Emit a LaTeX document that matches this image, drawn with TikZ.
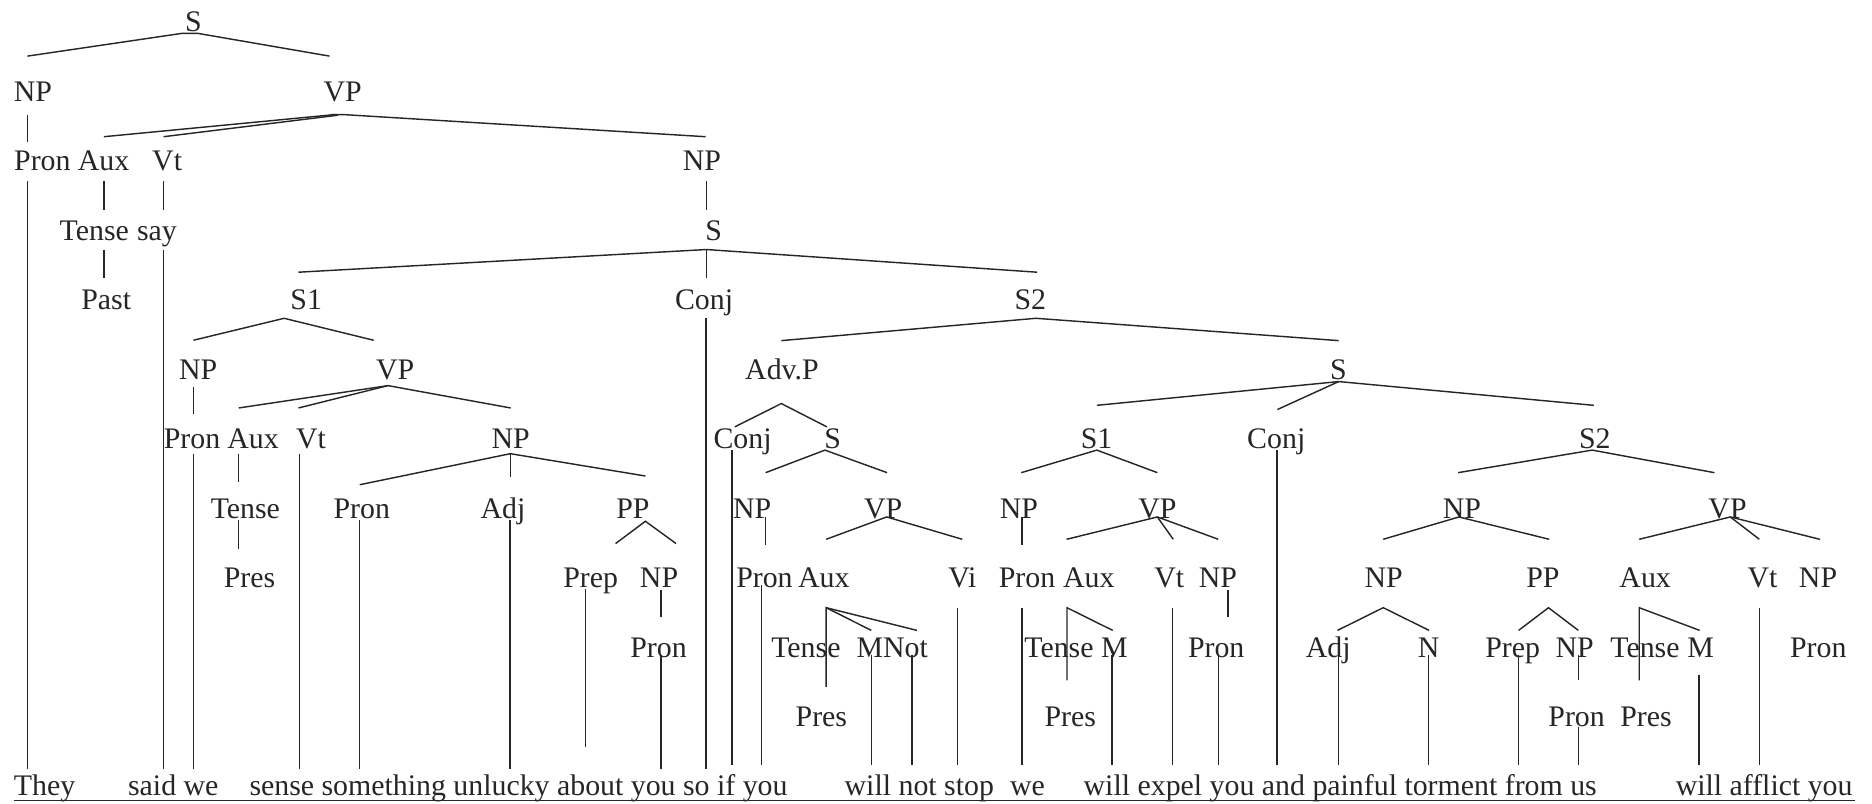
\documentclass[tikz,border=0pt]{standalone}
\usepackage{fontspec}
\setmainfont{Liberation Serif}
\definecolor{ink}{HTML}{262626}
\begin{document}
\begin{tikzpicture}[x=1pt,y=-1pt,
  lbl/.style={anchor=base,inner sep=0pt,outer sep=0pt,text=ink,font=\fontsize{25}{30}\selectfont},
  wrd/.style={lbl,anchor=base west},
  br/.style={draw=ink,line width=1.2pt}]
\useasboundingbox (0,0) rectangle (1568,673);

% ---- category labels, row by row ----
\node[lbl] (s0) at (162,26.5) {S};
\node[lbl] (np0) at (27.5,84.7) {NP};
\node[lbl] (vp0) at (287,84.7) {VP};

\node[lbl] (pron1) at (35.5,142.9) {Pron};
\node[lbl] (aux1) at (86.8,142.9) {Aux};
\node[lbl] (vt1) at (140,142.9) {Vt};
\node[lbl] (np1) at (588,142.9) {NP};

\node[lbl] (tense1) at (79,201.1) {Tense};
\node[lbl] (say) at (131.5,201.1) {say};
\node[lbl] (s1) at (597.7,201.1) {S};

\node[lbl] (past) at (89,259.3) {Past};
\node[lbl] (sa) at (256.5,259.3) {S1};
\node[lbl] (conj1) at (589.7,259.3) {Conj};
\node[lbl] (sb) at (863,259.3) {S2};

\node[lbl] (np2) at (166,317.5) {NP};
\node[lbl] (vp2) at (331,317.5) {VP};
\node[lbl] (advp) at (655,317.5) {Adv.P};
\node[lbl] (s2) at (1121,317.5) {S};

\node[lbl] (pron2) at (160.9,375.7) {Pron};
\node[lbl] (aux2) at (212,375.7) {Aux};
\node[lbl] (vt2) at (260.5,375.7) {Vt};
\node[lbl] (np3) at (427.8,375.7) {NP};
\node[lbl] (conj2) at (622,375.7) {Conj};
\node[lbl] (s3) at (697.5,375.7) {S};
\node[lbl] (sc) at (918.5,375.7) {S1};
\node[lbl] (conj3) at (1069,375.7) {Conj};
\node[lbl] (sd) at (1335.8,375.7) {S2};

\node[lbl] (tense2) at (205.5,433.9) {Tense};
\node[lbl] (pron3) at (303,433.9) {Pron};
\node[lbl] (adj1) at (421.3,433.9) {Adj};
\node[lbl] (pp1) at (530.2,433.9) {PP};
\node[lbl] (np4) at (630,433.9) {NP};
\node[lbl] (vp3) at (739.8,433.9) {VP};
\node[lbl] (np5) at (853.5,433.9) {NP};
\node[lbl] (vp4) at (969.4,433.9) {VP};
\node[lbl] (np6) at (1224.5,433.9) {NP};
\node[lbl] (vp5) at (1447,433.9) {VP};

\node[lbl] (pres1) at (209,492.1) {Pres};
\node[lbl] (prep1) at (494.7,492.1) {Prep};
\node[lbl] (np7) at (552,492.1) {NP};
\node[lbl] (pron4) at (640.3,492.1) {Pron};
\node[lbl] (aux3) at (690,492.1) {Aux};
\node[lbl] (vi) at (806,492.1) {Vi};
\node[lbl] (pron5) at (860.2,492.1) {Pron};
\node[lbl] (aux4) at (912,492.1) {Aux};
\node[lbl] (vt3) at (979.4,492.1) {Vt};
\node[lbl] (np8) at (1020.2,492.1) {NP};
\node[lbl] (np9) at (1159,492.1) {NP};
\node[lbl] (pp2) at (1292.3,492.1) {PP};
\node[lbl] (aux5) at (1378,492.1) {Aux};
\node[lbl] (vt4) at (1476.3,492.1) {Vt};
\node[lbl] (np10) at (1522.8,492.1) {NP};

\node[lbl] (pron6) at (551.6,550.3) {Pron};
\node[lbl] (tense3) at (675,550.3) {Tense};
\node[wrd] (m1) at (717.5,550.3) {M};
\node[wrd] (neg) at (739.7,550.3) {Not};
\node[lbl] (tense4) at (887,550.3) {Tense};
\node[lbl] (m2) at (933.5,550.3) {M};
\node[lbl] (pron7) at (1018.7,550.3) {Pron};
\node[lbl] (adj2) at (1112.5,550.3) {Adj};
\node[lbl] (n1) at (1196.6,550.3) {N};
\node[lbl] (prep2) at (1267,550.3) {Prep};
\node[lbl] (np11) at (1319,550.3) {NP};
\node[lbl] (tense5) at (1377.8,550.3) {Tense};
\node[lbl] (m3) at (1424.5,550.3) {M};
\node[lbl] (pron8) at (1523,550.3) {Pron};

\node[lbl] (pres2) at (688,608.5) {Pres};
\node[lbl] (pres3) at (896.5,608.5) {Pres};
\node[lbl] (pron9) at (1320.6,608.5) {Pron};
\node[lbl] (pres4) at (1378.7,608.5) {Pres};

% ---- the sentence ----
\node[wrd] (w1) at (11.7,666.3) {They};
\node[wrd] (w2) at (107.3,666.3) {said we};
\node[wrd] (w3) at (209,666.3) {sense something unlucky about you so if you};
\node[wrd] (w4) at (707.5,666.3) {will not stop};
\node[wrd] (w5) at (846,666.3) {we};
\node[wrd] (w6) at (907.7,666.3) {will expel you and painful torment from us};
\node[wrd] (w7) at (1403.6,666.3) {will afflict you};
\draw[br] (12,670.3) -- (1553.6,670.3);

% ---- branches ----
\draw[br] (23,47) -- (152,28) -- (166,28) -- (276,47);
\draw[br] (23,96) -- (23,119);
\draw[br] (87,114.5) -- (280,96);
\draw[br] (137,114.5) -- (283,96.5);
\draw[br] (277,96) -- (288,96) -- (591,114.5);
\draw[br] (23,152) -- (23,644);
\draw[br] (87,152) -- (87,176);
\draw[br] (137,152) -- (137,176);
\draw[br] (87,209) -- (87,233);
\draw[br] (137,209) -- (137,644);
\draw[br] (591.7,152) -- (591.7,176);
\draw[br] (250,228) -- (591.7,209) -- (868.7,228);
\draw[br] (591.7,209) -- (591.7,233);
\draw[br] (162,285) -- (238,266.6) -- (313,285);
\draw[br] (591.5,266.6) -- (591.5,644);
\draw[br] (654.4,285.3) -- (867.7,266.6) -- (1121.3,285.3);
\draw[br] (162,324) -- (162,346.5);
\draw[br] (200,341.7) -- (325,323) -- (427.7,341.7);
\draw[br] (250,341.7) -- (325,323);
\draw[br] (615.4,357.6) -- (654.4,338) -- (692.7,357.6);
\draw[br] (918.7,339.5) -- (1121.3,319.6) -- (1335,339.5);
\draw[br] (1121.3,319.6) -- (1070,343);
\draw[br] (162,380) -- (162,644);
\draw[br] (200,380) -- (200,403.6);
\draw[br] (250.7,380) -- (250.7,644);
\draw[br] (301.3,406) -- (427.5,380) -- (540.6,398.7);
\draw[br] (427.5,380) -- (427.5,399.5);
\draw[br] (613,377) -- (613,641);
\draw[br] (641.3,395.9) -- (691,377) -- (743,395.9);
\draw[br] (855.4,395.9) -- (918.7,377) -- (969.4,395.9);
\draw[br] (1069.6,377) -- (1069.6,641);
\draw[br] (1221.3,395.9) -- (1333.6,377) -- (1436,395.9);
\draw[br] (200,435.8) -- (200,459.5);
\draw[br] (301,435.8) -- (301,644);
\draw[br] (427,435.8) -- (427,644);
\draw[br] (515.6,455.3) -- (540.6,436.6) -- (566.3,455.3);
\draw[br] (641.3,433) -- (641.3,456.7);
\draw[br] (692,451.7) -- (742.7,433) -- (806,451.7);
\draw[br] (856,433) -- (856,456.7);
\draw[br] (893.4,451.7) -- (969.4,433) -- (1020.4,451.7);
\draw[br] (969.4,433) -- (982.7,451.7);
\draw[br] (1158.6,451.7) -- (1222,433) -- (1297.6,451.7);
\draw[br] (1373,451.7) -- (1449.3,433) -- (1524.3,451.7);
\draw[br] (1449.3,433) -- (1473.6,451.7);
\draw[br] (490.3,493) -- (490.3,625.6);
\draw[br] (553.6,494.4) -- (553.6,516.8);
\draw[br] (638,490) -- (638,641);
\draw[br] (692,575.4) -- (692,509) -- (729.8,528);
\draw[br] (692,509) -- (768,528);
\draw[br] (802,509) -- (802,641);
\draw[br] (856,509) -- (856,641);
\draw[br] (893.7,569.8) -- (893.7,509) -- (932,528);
\draw[br] (982,509) -- (982,641);
\draw[br] (1028.7,494.4) -- (1028.7,516.7);
\draw[br] (1120.3,528) -- (1158.6,509) -- (1197,528);
\draw[br] (1272,528) -- (1297,509) -- (1322,528);
\draw[br] (1373,569.8) -- (1373,509) -- (1423.6,528);
\draw[br] (1473.6,509) -- (1473.6,641);
\draw[br] (553.6,549) -- (553.6,644);
\draw[br] (729.8,549) -- (729.8,641);
\draw[br] (764,549) -- (764,641);
\draw[br] (931.4,549) -- (931.4,641);
\draw[br] (1020.4,549) -- (1020.4,641);
\draw[br] (1121,549) -- (1121,641);
\draw[br] (1196.3,549) -- (1196.3,641);
\draw[br] (1272,549) -- (1272,641);
\draw[br] (1322,549) -- (1322,569.8);
\draw[br] (1322,608.8) -- (1322,641);
\draw[br] (1423,565.6) -- (1423,641);
\end{tikzpicture}
\end{document}
